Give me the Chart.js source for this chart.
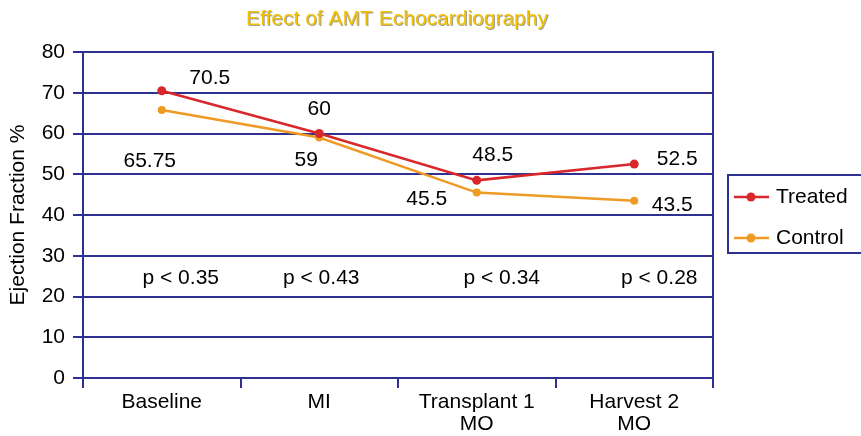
<!DOCTYPE html>
<html>
<head>
<meta charset="utf-8">
<script src="https://cdn.jsdelivr.net/npm/chart.js@4"></script>
<style>
  html, body { margin: 0; padding: 0; background: #fff; }
  #wrap { width: 861px; height: 436px; }
</style>
</head>
<body>
<div id="wrap"><canvas id="efChart"></canvas></div>
<script>
// Datos
const categories = ['Baseline', 'MI', ['Transplant 1', 'MO'], ['Harvest 2', 'MO']];
const treated = [70.5, 60, 48.5, 52.5];
const control = [65.75, 59, 45.5, 43.5];
const pValues = ['p < 0.35', 'p < 0.43', 'p < 0.34', 'p < 0.28'];
const pLevel = 24.5;
const yTicks = [0, 10, 20, 30, 40, 50, 60, 70, 80];

// Desplazamientos de las etiquetas de valor (px) respecto al punto
const treatedLabelOffsets = [[48, -13], [0, -24], [16, -25], [43, -5]];
const controlLabelOffsets = [[-12, 51], [-13, 23], [-50, 7], [38, 4]];
const pLabelOffsets = [19, 2, 25, 25];

const NAVY = '#2e3192';
const RED = '#d8282b';
const ORANGE = '#ef9a24';
const FONT = "'Liberation Sans', Arial, Helvetica, sans-serif";
const SIZE = 21;

const annotations = {
  id: 'annotations',
  afterDatasetsDraw(chart) {
    const ctx = chart.ctx;
    const area = chart.chartArea;
    const x = chart.scales.x;
    const y = chart.scales.y;

    ctx.save();
    // título con sombra
    ctx.font = '21px ' + FONT;
    ctx.textAlign = 'center';
    ctx.textBaseline = 'middle';
    ctx.fillStyle = '#a0a0a0';
    ctx.fillText('Effect of AMT Echocardiography', 398, 20);
    ctx.fillStyle = '#f2c200';
    ctx.fillText('Effect of AMT Echocardiography', 397, 19);

    // borde derecho del área
    ctx.strokeStyle = NAVY;
    ctx.lineWidth = 2;
    ctx.beginPath();
    ctx.moveTo(area.right, area.top - 1);
    ctx.lineTo(area.right, area.bottom + 10);
    ctx.stroke();

    ctx.fillStyle = '#000';
    ctx.font = SIZE + 'px ' + FONT;

    const metaT = chart.getDatasetMeta(0);
    const metaC = chart.getDatasetMeta(1);
    treated.forEach((v, i) => {
      const p = metaT.data[i];
      ctx.fillText(String(v), p.x + treatedLabelOffsets[i][0], p.y + treatedLabelOffsets[i][1]);
    });
    control.forEach((v, i) => {
      const p = metaC.data[i];
      ctx.fillText(String(v), p.x + controlLabelOffsets[i][0], p.y + controlLabelOffsets[i][1]);
    });
    pValues.forEach((t, i) => {
      ctx.fillText(t, x.getPixelForValue(i) + pLabelOffsets[i], y.getPixelForValue(pLevel));
    });

    // leyenda con recuadro
    const lx = area.right + 15, ly = 175, lw = 140, lh = 78;
    ctx.strokeStyle = NAVY;
    ctx.lineWidth = 2;
    ctx.strokeRect(lx, ly, lw, lh);
    [['Treated', RED], ['Control', ORANGE]].forEach(([name, col], i) => {
      const cy = ly + 22 + i * 41;
      ctx.strokeStyle = col;
      ctx.lineWidth = 2.5;
      ctx.beginPath();
      ctx.moveTo(lx + 6, cy);
      ctx.lineTo(lx + 41, cy);
      ctx.stroke();
      ctx.fillStyle = col;
      ctx.beginPath();
      ctx.arc(lx + 23, cy, 4.5, 0, Math.PI * 2);
      ctx.fill();
      ctx.fillStyle = '#000';
      ctx.textAlign = 'left';
      ctx.fillText(name, lx + 48, cy);
    });
    ctx.restore();
  }
};

new Chart(document.getElementById('efChart'), {
  type: 'line',
  data: {
    labels: categories,
    datasets: [
      {
        label: 'Treated',
        data: treated,
        borderColor: RED,
        backgroundColor: RED,
        borderWidth: 2.5,
        pointRadius: 4.5,
        pointBorderWidth: 0,
        tension: 0
      },
      {
        label: 'Control',
        data: control,
        borderColor: ORANGE,
        backgroundColor: ORANGE,
        borderWidth: 2.5,
        pointRadius: 4,
        pointBorderWidth: 0,
        tension: 0
      }
    ]
  },
  options: {
    responsive: true,
    maintainAspectRatio: false,
    animation: false,
    layout: { padding: { left: 0, right: 148, top: 52, bottom: 0 } },
    plugins: {
      legend: { display: false },
      tooltip: { enabled: false },
      title: { display: false }
    },
    scales: {
      x: {
        offset: true,
        afterFit: s => { s.height = 58; },
        grid: {
          offset: true,
          drawOnChartArea: false,
          drawTicks: true,
          tickLength: 10,
          color: NAVY,
          lineWidth: 2
        },
        border: { display: false },
        ticks: {
          color: '#000',
          font: { family: FONT, size: SIZE, lineHeight: 1.05 },
          padding: 3,
          maxRotation: 0,
          autoSkip: false
        }
      },
      y: {
        min: 0,
        max: 80,
        afterFit: s => { s.width = 83; },
        afterBuildTicks: axis => { axis.ticks = yTicks.map(v => ({ value: v })); },
        grid: {
          color: NAVY,
          lineWidth: 2,
          drawTicks: true,
          tickLength: 10
        },
        border: { color: NAVY, width: 2 },
        ticks: {
          color: '#000',
          font: { family: FONT, size: SIZE },
          padding: 8
        },
        title: {
          display: true,
          text: 'Ejection Fraction %',
          color: '#000',
          font: { family: FONT, size: SIZE },
          padding: { top: 6, bottom: 0 }
        }
      }
    }
  },
  plugins: [annotations]
});
</script>
</body>
</html>
